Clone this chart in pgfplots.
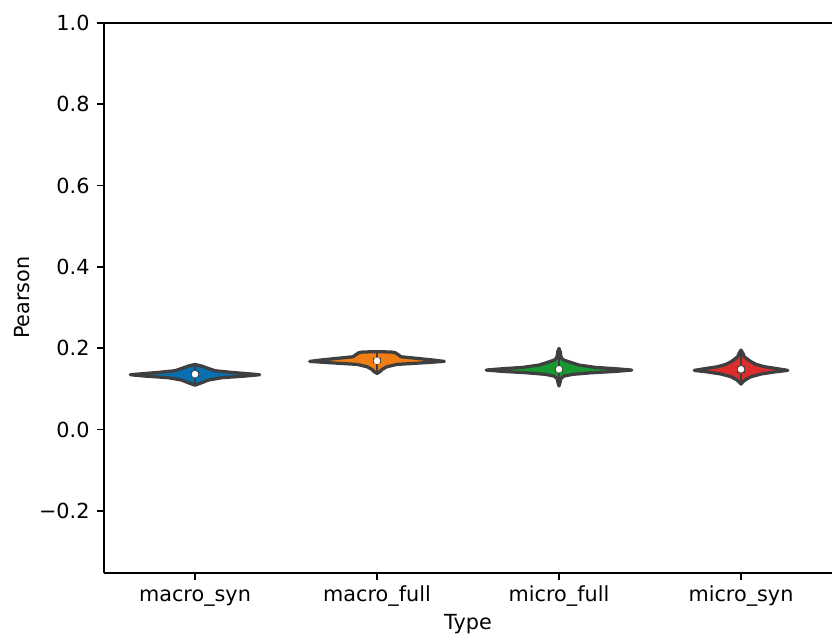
\documentclass[border=0pt]{standalone}
\usepackage{fontspec}
\setmainfont{DejaVu Sans}
\usepackage{pgfplots}
\pgfplotsset{compat=1.18}
\definecolor{vblue}{RGB}{8,112,176}
\definecolor{vorange}{RGB}{240,126,20}
\definecolor{vgreen}{RGB}{24,152,48}
\definecolor{vred}{RGB}{222,45,45}
\definecolor{vgray}{RGB}{63,63,63}
\begin{document}
\fontsize{11.5}{13.8}\selectfont
\begin{tikzpicture}
\path[use as bounding box] (-57.6pt,-35.6pt) rectangle (403.2pt,317.2pt);
\begin{axis}[
  at={(0,0)}, anchor=south west,
  scale only axis, width=403.2pt, height=304.6pt,
  xmin=-0.5, xmax=3.5, ymin=-0.352, ymax=1.0,
  axis x line*=bottom, axis y line*=left,
  axis line style={-, line width=1pt, black},
  xtick={0,1,2,3},
  xticklabels={macro\_syn,macro\_full,micro\_full,micro\_syn},
  ytick={-0.2,0,0.2,0.4,0.6,0.8,1.0},
  yticklabels={−0.2,0.0,0.2,0.4,0.6,0.8,1.0},
  tick align=outside, major tick length=4pt,
  tick style={line width=1pt, black},
  every tick label/.append style={font=\fontsize{11.5}{13.8}\selectfont},
  xticklabel style={anchor=base, yshift=-12pt},
  every axis x label/.style={at={(rel axis cs:0.5,0)}, yshift=-28.3pt, anchor=center},
  every axis y label/.style={at={(rel axis cs:0,0.5)}, xshift=-45.4pt, rotate=90, anchor=center},
  xlabel={Type}, ylabel={Pearson},
  label style={font=\fontsize{11.5}{13.8}\selectfont},
  clip=false,
]
\draw[line width=1pt] (rel axis cs:0,1) -- (rel axis cs:1,1);
% violin 1: macro_syn
\addplot[fill=vblue, draw=vgray, line width=1.8pt, line join=round] coordinates {
 (0,0.109) (0.037,0.115) (0.074,0.1216) (0.147,0.1274) (0.276,0.1314) (0.355,0.1347) (0.29,0.1372) (0.2,0.1405) (0.11,0.1446) (0.074,0.150) (0.037,0.156) (0,0.160)
 (-0.037,0.156) (-0.074,0.150) (-0.11,0.1446) (-0.2,0.1405) (-0.29,0.1372) (-0.355,0.1347) (-0.276,0.1314) (-0.147,0.1274) (-0.074,0.1216) (-0.037,0.115)
} -- cycle;
% violin 2: macro_full
\addplot[fill=vorange, draw=vgray, line width=1.8pt, line join=round] coordinates {
 (1,0.138) (1.015,0.1421) (1.028,0.1478) (1.055,0.1544) (1.11,0.1601) (1.26,0.1642) (1.37,0.1675) (1.31,0.1708) (1.22,0.1749) (1.13,0.1790) (1.12,0.1830) (1.10,0.1888) (1.08,0.1905) (1,0.1915)
 (0.92,0.1905) (0.90,0.1888) (0.88,0.1830) (0.87,0.1790) (0.78,0.1749) (0.69,0.1708) (0.63,0.1675) (0.74,0.1642) (0.89,0.1601) (0.945,0.1544) (0.972,0.1478) (0.985,0.1421)
} -- cycle;
% violin 3: micro_full
\addplot[fill=vgreen, draw=vgray, line width=1.8pt, line join=round] coordinates {
 (2,0.1069) (2.007,0.1175) (2.011,0.1257) (2.028,0.1314) (2.074,0.1356) (2.18,0.1396) (2.31,0.1429) (2.40,0.1462) (2.31,0.1495) (2.20,0.1527) (2.11,0.1585) (2.064,0.165) (2.026,0.1708) (2.015,0.1749) (2.009,0.183) (2.007,0.1912) (2,0.1994)
 (1.993,0.1912) (1.991,0.183) (1.985,0.1749) (1.974,0.1708) (1.936,0.165) (1.89,0.1585) (1.80,0.1527) (1.69,0.1495) (1.60,0.1462) (1.69,0.1429) (1.82,0.1396) (1.926,0.1356) (1.972,0.1314) (1.989,0.1257) (1.993,0.1175)
} -- cycle;
% violin 4: micro_syn
\addplot[fill=vred, draw=vgray, line width=1.8pt, line join=round] coordinates {
 (3,0.1118) (3.011,0.1175) (3.028,0.1233) (3.055,0.1298) (3.11,0.1364) (3.18,0.1413) (3.257,0.1454) (3.20,0.1495) (3.129,0.1544) (3.083,0.1601) (3.055,0.1667) (3.037,0.1724) (3.018,0.179) (3.011,0.1871) (3,0.1953)
 (2.989,0.1871) (2.982,0.179) (2.963,0.1724) (2.945,0.1667) (2.917,0.1601) (2.871,0.1544) (2.80,0.1495) (2.743,0.1454) (2.82,0.1413) (2.89,0.1364) (2.945,0.1298) (2.972,0.1233) (2.989,0.1175)
} -- cycle;
% whiskers
\addplot[vgray, line width=1.6pt] coordinates {(0,0.112) (0,0.158)};
\addplot[vgray, line width=1.6pt] coordinates {(1,0.145) (1,0.188)};
\addplot[vgray, line width=1.6pt] coordinates {(2,0.110) (2,0.197)};
\addplot[vgray, line width=1.6pt] coordinates {(3,0.115) (3,0.193)};
% IQR boxes
\addplot[vgray, line width=4.5pt] coordinates {(0,0.129) (0,0.143)};
\addplot[vgray, line width=4.5pt] coordinates {(1,0.163) (1,0.175)};
\addplot[vgray, line width=4.5pt] coordinates {(2,0.141) (2,0.154)};
\addplot[vgray, line width=4.5pt] coordinates {(3,0.140) (3,0.157)};
% medians
\addplot[only marks, mark=*, mark size=1.6pt, mark options={fill=white, draw=white}] coordinates {(0,0.136) (1,0.169) (2,0.148) (3,0.148)};
\end{axis}
\end{tikzpicture}
\end{document}
